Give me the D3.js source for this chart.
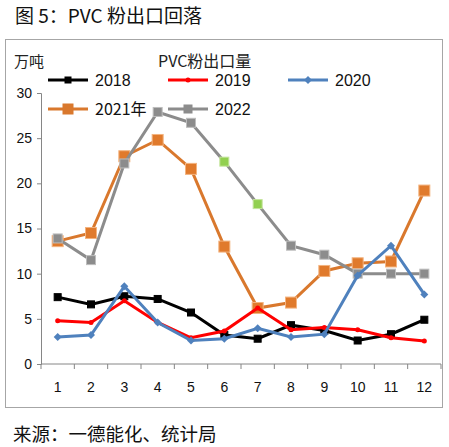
<!DOCTYPE html>
<html><head><meta charset="utf-8">
<script src="https://cdn.jsdelivr.net/npm/d3@7"></script>
<style>body{margin:0;background:#fff;} svg{display:block;}</style>
</head><body>
<svg id="c" width="449" height="447"></svg>
<script>
const months = ["1","2","3","4","5","6","7","8","9","10","11","12"];
const yTicks = [0,5,10,15,20,25,30];
const s2018 = [7.4,6.6,7.5,7.2,5.7,3.2,2.8,4.3,3.7,2.6,3.3,4.9];
const s2019 = [4.8,4.6,7.0,4.6,2.9,3.65,6.2,3.8,4.05,3.8,2.9,2.55];
const s2020 = [3.0,3.2,8.6,4.6,2.6,2.8,3.95,3.0,3.3,9.8,13.1,7.7];
const s2021 = [13.6,14.5,23.0,24.8,21.6,13.0,6.2,6.8,10.3,11.15,11.35,19.2];
const s2022 = [13.9,11.5,22.2,27.9,26.7,22.4,17.7,13.1,12.1,10.0,10.0,10.0];
const seriesNames = ["2018","2019","2020","2021年","2022"];

const svg = d3.select("#c");
const cjk = "'Noto Sans CJK SC','Noto Sans',sans-serif";
const num = "'Liberation Sans','DejaVu Sans',sans-serif";

svg.append("text").attr("x",15).attr("y",23).attr("font-family",cjk).attr("font-size",19).attr("fill","#111").text("图 5：PVC 粉出口回落");
svg.append("rect").attr("x",5.5).attr("y",39.5).attr("width",437).attr("height",368).attr("fill","#fff").attr("stroke","#a6a6a6");
svg.append("text").attr("x",13).attr("y",441).attr("font-family",cjk).attr("font-size",18.5).attr("fill","#111").text("来源：一德能化、统计局");

const x = d3.scaleBand().domain(months).range([41,441]);
const y = d3.scaleLinear().domain([0,30]).range([364,93]);

// y axis
const ya = svg.append("g").attr("transform","translate(41,0)").call(d3.axisLeft(y).tickValues(yTicks).tickSize(4).tickPadding(5));
ya.select(".domain").attr("stroke","#868686");
ya.selectAll(".tick line").attr("stroke","#868686");
ya.selectAll("text").attr("font-family",num).attr("font-size",14).attr("fill","#111");

// x axis
const xa = svg.append("g").attr("transform","translate(0,364)");
xa.append("line").attr("x1",41).attr("x2",441).attr("stroke","#868686");
xa.selectAll("line.t").data(months.concat(["end"])).enter().append("line")
  .attr("x1",(d,i)=>41+i*x.bandwidth()).attr("x2",(d,i)=>41+i*x.bandwidth())
  .attr("y1",0).attr("y2",5).attr("stroke","#868686");
xa.selectAll("text").data(months).enter().append("text")
  .attr("x",d=>x(d)+x.bandwidth()/2).attr("y",28).attr("text-anchor","middle")
  .attr("font-family",num).attr("font-size",14).attr("fill","#111").text(d=>d);

const cx = (d,i)=>x(months[i])+x.bandwidth()/2;
const line = d3.line().x(cx).y(d=>y(d));

function square(g, data, size, fill, stroke){
  g.selectAll("rect.m").data(data).enter().append("rect")
   .attr("x",(d,i)=>cx(d,i)-size/2).attr("y",d=>y(d)-size/2)
   .attr("width",size).attr("height",size)
   .attr("fill",(d,i)=>typeof fill==="function"?fill(i):fill)
   .attr("stroke",(d,i)=>typeof stroke==="function"?stroke(i):stroke).attr("stroke-width",1);
}
function diamond(g, data, size, fill){
  g.selectAll("path.m").data(data).enter().append("path")
   .attr("d",(d,i)=>{const a=cx(d,i),b=y(d),r=size/2;return `M${a},${b-r}L${a+r},${b}L${a},${b+r}L${a-r},${b}Z`;})
   .attr("fill",fill);
}

// draw order: 2021, 2022, 2018, 2019, 2020
const g21 = svg.append("g");
g21.append("path").attr("d",line(s2021)).attr("fill","none").attr("stroke","#d9782d").attr("stroke-width",3);
square(g21,s2021,11,"#e07a2c","#f3b37f");
const g22 = svg.append("g");
g22.append("path").attr("d",line(s2022)).attr("fill","none").attr("stroke","#8c8c8c").attr("stroke-width",3);
square(g22,s2022,9,i=>(i===5||i===6)?"#92d050":"#8c8c8c",i=>(i===5||i===6)?"#c4e59b":"#bdbdbd");
const g18 = svg.append("g");
g18.append("path").attr("d",line(s2018)).attr("fill","none").attr("stroke","#000").attr("stroke-width",3);
square(g18,s2018,7,"#000","#000");
const g19 = svg.append("g");
g19.append("path").attr("d",line(s2019)).attr("fill","none").attr("stroke","#ff0000").attr("stroke-width",3);
g19.selectAll("circle").data(s2019).enter().append("circle").attr("cx",cx).attr("cy",d=>y(d)).attr("r",2.5).attr("fill","#ff0000");
const g20 = svg.append("g");
g20.append("path").attr("d",line(s2020)).attr("fill","none").attr("stroke","#4f81bd").attr("stroke-width",3);
diamond(g20,s2020,8,"#4f81bd");

// header texts
svg.append("text").attr("x",14).attr("y",67).attr("font-family",cjk).attr("font-size",15).attr("fill","#222").text("万吨");
svg.append("text").attr("x",158).attr("y",67).attr("font-family",cjk).attr("font-size",16).attr("fill","#222").text("PVC粉出口量");

// legend
const leg = [
  {name:seriesNames[0],x:48,y:80,c:"#000",m:"sq",ms:7},
  {name:seriesNames[1],x:168,y:80,c:"#ff0000",m:"ci",ms:5},
  {name:seriesNames[2],x:288,y:80,c:"#4f81bd",m:"di",ms:8},
  {name:seriesNames[3],x:48,y:109,c:"#d9782d",m:"sq",ms:11},
  {name:seriesNames[4],x:168,y:109,c:"#8c8c8c",m:"sq",ms:9}
];
const lg = svg.append("g");
leg.forEach(l=>{
  lg.append("line").attr("x1",l.x).attr("x2",l.x+40).attr("y1",l.y).attr("y2",l.y).attr("stroke",l.c).attr("stroke-width",3);
  const mx=l.x+20;
  if(l.m==="sq") lg.append("rect").attr("x",mx-l.ms/2).attr("y",l.y-l.ms/2).attr("width",l.ms).attr("height",l.ms).attr("fill",l.c);
  else if(l.m==="ci") lg.append("circle").attr("cx",mx).attr("cy",l.y).attr("r",2.5).attr("fill",l.c);
  else lg.append("path").attr("d",`M${mx},${l.y-4}L${mx+4},${l.y}L${mx},${l.y+4}L${mx-4},${l.y}Z`).attr("fill",l.c);
  lg.append("text").attr("x",l.x+47).attr("y",l.y+6).attr("font-family",l.name.includes("年")?cjk:num).attr("font-size",16).attr("fill","#111").text(l.name);
});
</script>
</body></html>
